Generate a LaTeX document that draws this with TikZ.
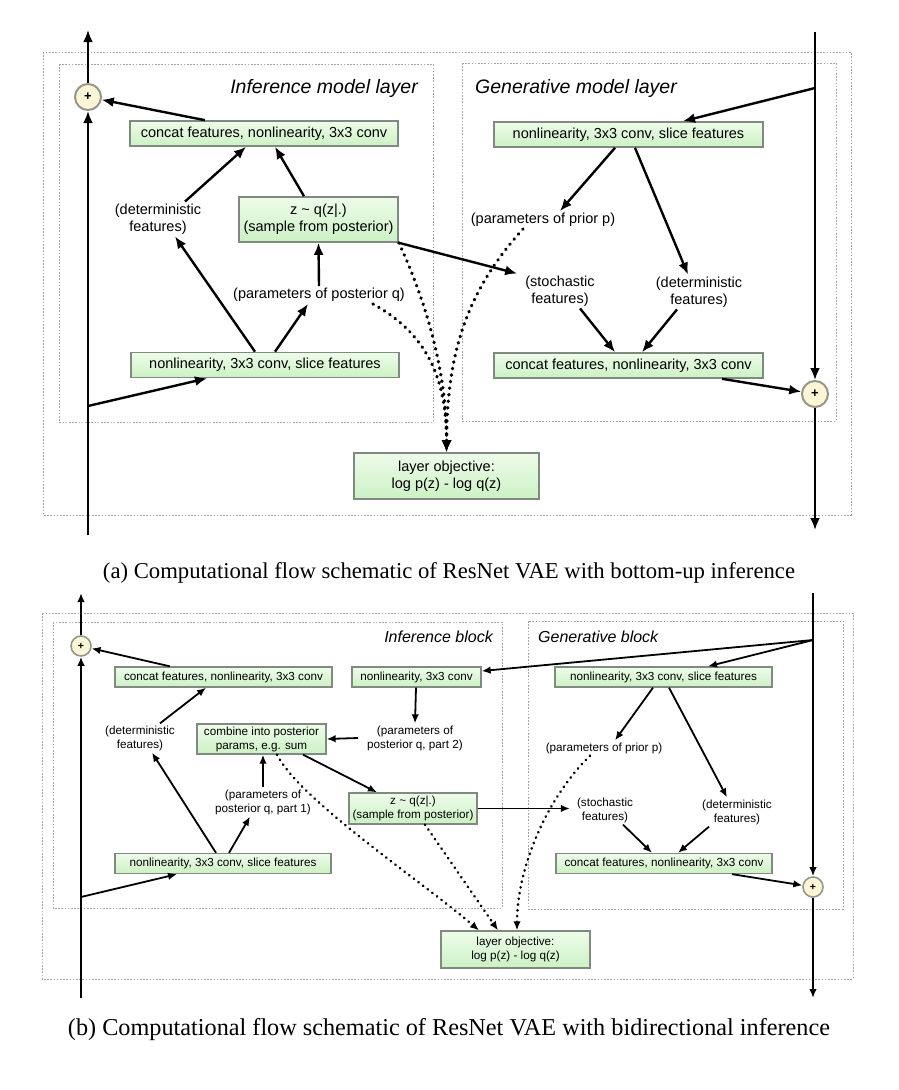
\documentclass[tikz,border=0pt]{standalone}
\usepackage{fontspec}
\usepackage{graphicx}
\newfontfamily\sansf{Liberation Sans}
\newfontfamily\capfont{Liberation Serif}
\usetikzlibrary{arrows.meta,calc}
\definecolor{boxtop}{RGB}{238,252,234}
\definecolor{boxbot}{RGB}{204,241,196}
\definecolor{boxline}{RGB}{128,138,128}
\definecolor{circfill}{RGB}{253,246,214}
\definecolor{circline}{RGB}{150,150,140}
\definecolor{framecol}{RGB}{165,165,165}
\begin{document}
\begin{tikzpicture}[x=1pt,y=-1pt,
  box/.style={draw=boxline, line width=1.6pt, top color=boxtop, bottom color=boxbot, inner sep=0pt, align=center, font=\sansf\fontsize{14.5}{17}\selectfont},
  bbox/.style={draw=boxline, line width=1.3pt, top color=boxtop, bottom color=boxbot, inner sep=0pt, align=center, font=\sansf\fontsize{11.7}{14}\selectfont},
  lbl/.style={inner sep=2pt, align=center, font=\sansf\fontsize{14.5}{17}\selectfont},
  blbl/.style={inner sep=2pt, align=center, font=\sansf\fontsize{11.7}{14}\selectfont},
  ttl/.style={inner sep=0pt, font=\sansf\itshape\fontsize{19.5}{22}\selectfont},
  bttl/.style={inner sep=0pt, font=\sansf\itshape\fontsize{16}{18}\selectfont},
  plus/.style={circle, minimum size=26pt, inner sep=0pt, draw=circline, line width=2pt, fill=circfill, font=\sansf\bfseries\fontsize{13}{13}\selectfont},
  bplus/.style={circle, minimum size=20pt, inner sep=0pt, draw=circline, line width=1.6pt, fill=circfill, font=\sansf\bfseries\fontsize{10.5}{10.5}\selectfont},
  arr/.style={line width=2.4pt, -{Latex[length=12pt,width=10pt]}},
  barr/.style={line width=1.8pt, -{Latex[length=9pt,width=7.5pt]}},
  dots/.style={line width=3.4pt, line cap=round, dash pattern=on 0.4pt off 6.2pt, -{Latex[length=12pt,width=10pt]}},
  bdots/.style={line width=2.7pt, line cap=round, dash pattern=on 0.3pt off 5.5pt, -{Latex[length=9pt,width=7.5pt]}},
  frame/.style={draw=framecol, line width=0.8pt, dash pattern=on 1.6pt off 1.6pt},
  captext/.style={inner sep=0pt}
]
\useasboundingbox (0,0) rectangle (898,1090);

% ================= (a) =================
\draw[frame] (43,52) rectangle (851,515);
\draw[frame] (59,64) rectangle (433,422);
\draw[frame] (462,63) rectangle (836,421);

\node[ttl, anchor=east] (tinf) at (418,88) {Inference model layer};
\node[ttl, anchor=west] (tgen) at (475,88) {Generative model layer};

\node[box, minimum width=268pt, minimum height=25pt] (icat) at (264,133.5) {concat features, nonlinearity, 3x3 conv};
\node[box, minimum width=159pt, minimum height=45pt] (izb) at (318.5,219.5) {z \textasciitilde{} q(z|.)\\(sample from posterior)};
\node[lbl] (idet) at (158,219) {(deterministic\\features)};
\node[lbl] (ipq) at (319,295) {(parameters of posterior q)};
\node[box, minimum width=268pt, minimum height=25pt] (inl) at (265,365) {nonlinearity, 3x3 conv, slice features};
\node[box, minimum width=185pt, minimum height=46pt] (obj) at (446.5,476) {layer objective:\\log p(z) - log q(z)};

\node[box, minimum width=269pt, minimum height=25pt] (gnl) at (628.5,134.5) {nonlinearity, 3x3 conv, slice features};
\node[lbl] (gpp) at (543,220) {(parameters of prior p)};
\node[lbl] (gst) at (560,291) {(stochastic\\features)};
\node[lbl] (gdet) at (699,292) {(deterministic\\features)};
\node[box, minimum width=269pt, minimum height=25pt] (gcat) at (628.5,365.5) {concat features, nonlinearity, 3x3 conv};

\node[plus] (lc) at (88,97) {+};
\node[plus] (rc) at (815,394) {+};
\coordinate (lbot) at (88,535);
\coordinate (ltop) at (88,30);
\coordinate (lj) at (88,406);
\coordinate (rtop) at (815,32);
\coordinate (rbot) at (815,530);
\coordinate (rj) at (815,88);

\draw[arr] (lbot) -- (lc);
\draw[arr] (lc) -- (ltop);
\draw[arr] (rtop) -- (rc);
\draw[arr] (rc) -- (rbot);
\draw[arr] ([xshift=-59pt]icat.north) -- (lc);
\draw[arr] ([xshift=27pt]idet.north) -- ([xshift=-18pt]icat.south);
\draw[arr] ([xshift=-14.5pt]izb.north) -- ([xshift=11pt]icat.south);
\draw[arr] (lj) -- ([xshift=-58pt]inl.south);
\draw[arr] ([xshift=-10pt]inl.north) -- ([xshift=17pt]idet.south);
\draw[arr] ([xshift=10pt]inl.north) -- ([xshift=-11pt]ipq.south);
\draw[arr] (ipq.north) -- (izb.south);
\draw[arr] (izb.south east) -- ([xshift=-6pt]gst.north west);
\draw[arr] (rj) -- ([xshift=54.5pt]gnl.north);
\draw[arr] ([xshift=-13.5pt]gnl.south) -- ([xshift=17pt]gpp.north);
\draw[arr] ([xshift=6.5pt]gnl.south) -- ([xshift=-11pt]gdet.north);
\draw[arr] ([xshift=20pt]gst.south) -- ([xshift=-13.5pt]gcat.north);
\draw[arr] ([xshift=-22pt]gdet.south) -- ([xshift=13.5pt]gcat.north);
\draw[arr] ([xshift=93.5pt]gcat.south) -- (rc);

\draw[dots] (izb.south east) .. controls (430,310) and (447,380) .. (obj.north);
\draw[dots] ([xshift=54pt]ipq.south) .. controls (420,330) and (447,370) .. (obj.north);
\draw[dots] ([xshift=-20pt]gpp.south) .. controls (468,290) and (447,350) .. (obj.north);

\node[captext] (capa) at (449,573) {\resizebox{692pt}{!}{\capfont (a) Computational flow schematic of ResNet VAE with bottom-up inference}};

% ================= (b) =================
\draw[frame] (42,613) rectangle (853,979);
\draw[frame] (53,622) rectangle (502,908);
\draw[frame] (528,621) rectangle (843,909);

\node[bttl, anchor=east] (tbinf) at (493,637) {Inference block};
\node[bttl, anchor=west] (tbgen) at (538,637) {Generative block};

\node[bbox, minimum width=217pt, minimum height=20pt] (bicat) at (223.5,677) {concat features, nonlinearity, 3x3 conv};
\node[bbox, minimum width=129pt, minimum height=20pt] (bin3) at (416.5,677) {nonlinearity, 3x3 conv};
\node[blbl] (bidet) at (140,738) {(deterministic\\features)};
\node[bbox, minimum width=129pt, minimum height=30pt] (bcomb) at (261.5,739) {combine into posterior\\params, e.g. sum};
\node[blbl] (bp2) at (415,738) {(parameters of\\posterior q, part 2)};
\node[blbl] (bp1) at (263,802) {(parameters of\\posterior q, part 1)};
\node[bbox, minimum width=128pt, minimum height=31pt] (bz) at (413,808.5) {z \textasciitilde{} q(z|.)\\(sample from posterior)};
\node[bbox, minimum width=216pt, minimum height=20pt] (binl) at (223,863.5) {nonlinearity, 3x3 conv, slice features};
\node[bbox, minimum width=149pt, minimum height=37pt] (bobj) at (515.5,949.5) {layer objective:\\log p(z) - log q(z)};

\node[bbox, minimum width=217pt, minimum height=20pt] (bgnl) at (663.5,677) {nonlinearity, 3x3 conv, slice features};
\node[blbl] (bgpp) at (604,748) {(parameters of prior p)};
\node[blbl] (bgst) at (605,810) {(stochastic\\features)};
\node[blbl] (bgdet) at (737,812) {(deterministic\\features)};
\node[bbox, minimum width=216pt, minimum height=20pt] (bgcat) at (664,863.5) {concat features, nonlinearity, 3x3 conv};

\node[bplus] (blc) at (81,646) {+};
\node[bplus] (brc) at (813,887) {+};
\coordinate (blbot) at (81,998);
\coordinate (bltop) at (81,593);
\coordinate (blj) at (81,897);
\coordinate (brtop) at (813,593);
\coordinate (brbot) at (813,998);
\coordinate (brj) at (813,640);

\draw[barr] (blbot) -- (blc);
\draw[barr] (blc) -- (bltop);
\draw[barr] (brtop) -- (brc);
\draw[barr] (brc) -- (brbot);
\draw[barr] ([xshift=-53.5pt]bicat.north) -- (blc);
\draw[barr] ([xshift=20pt]bidet.north) -- ([xshift=-17.5pt]bicat.south);
\draw[barr] ([xshift=-0.5pt]bin3.south) -- (bp2.north);
\draw[barr] ([xshift=-7pt]bp2.west) -- (bcomb.east);
\draw[barr] (bp1.north) -- (bp1.north |- bcomb.south);
\draw[barr] ([xshift=41.5pt]bcomb.south) -- ([xshift=-36pt]bz.north);
\draw[barr] ([xshift=-7pt]binl.north) -- ([xshift=12pt]bidet.south);
\draw[barr] ([xshift=6pt]binl.north) -- ([xshift=-13pt]bp1.south);
\draw[barr] (blj) -- ([xshift=-46pt]binl.south);
\draw[barr] (bz.east) -- ($(bz.east -| bgst.west)+(-5,0)$);
\draw[barr] (brj) -- ([yshift=6pt]bin3.east);
\draw[barr] (brj) -- ([xshift=44.5pt]bgnl.north);
\draw[barr] ([xshift=-10.5pt]bgnl.south) -- ([xshift=11pt]bgpp.north);
\draw[barr] ([xshift=5.5pt]bgnl.south) -- ([xshift=-10pt]bgdet.north);
\draw[barr] ([xshift=18pt]bgst.south) -- ([xshift=-12pt]bgcat.north);
\draw[barr] ([xshift=-28pt]bgdet.south) -- ([xshift=14pt]bgcat.north);
\draw[barr] ([xshift=68pt]bgcat.south) -- (brc);

\draw[bdots] ([xshift=15.5pt]bcomb.south) .. controls (300,800) and (420,880) .. ([xshift=-36.5pt]bobj.north);
\draw[bdots] ([xshift=12pt]bz.south) -- ([xshift=-17.5pt]bobj.north);
\draw[bdots] ([xshift=-14pt]bgpp.south) .. controls (545,800) and (517,870) .. ([xshift=1.5pt]bobj.north);

\node[captext] (capb) at (449,1030) {\resizebox{762pt}{!}{\capfont (b) Computational flow schematic of ResNet VAE with bidirectional inference}};
\end{tikzpicture}
\end{document}
